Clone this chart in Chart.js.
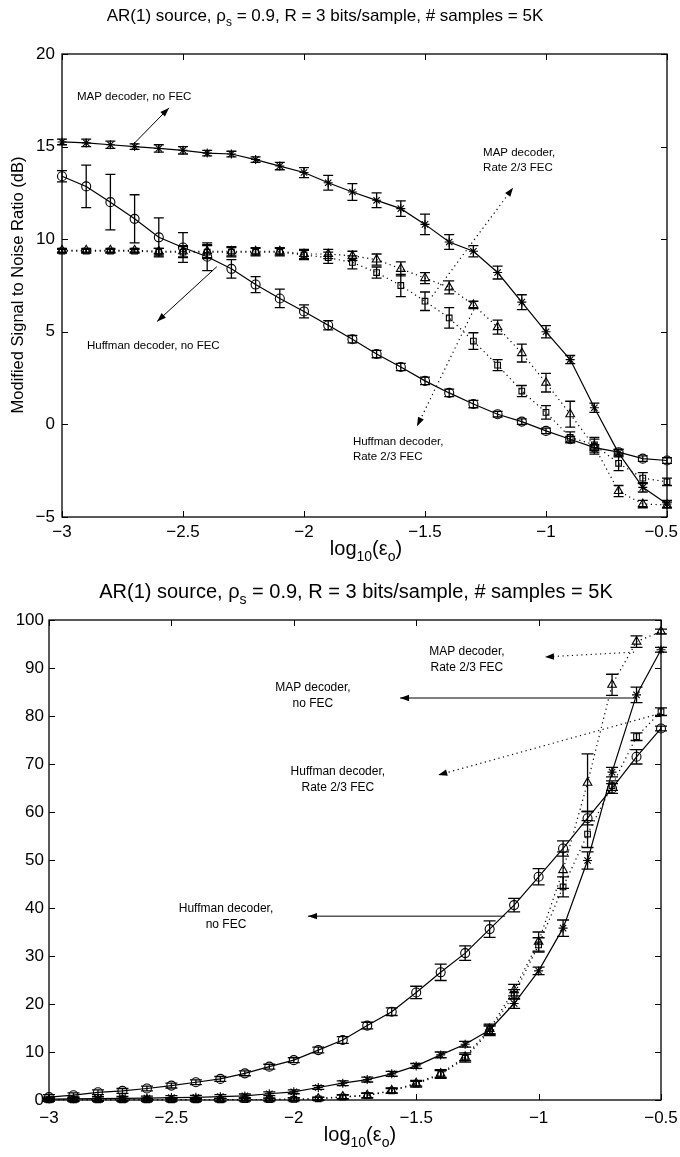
<!DOCTYPE html>
<html>
<head>
<meta charset="utf-8">
<script src="https://cdn.jsdelivr.net/npm/chart.js@4.4.1/dist/chart.umd.min.js"></script>
<style>
html, body { margin: 0; padding: 0; background: #fff; }
#wrap { position: relative; width: 680px; height: 1157px; }
canvas { position: absolute; left: 0; }
</style>
</head>
<body>
<div id="wrap">
  <canvas id="snrCanvas" width="680" height="578" style="top:0"></canvas>
  <canvas id="errCanvas" width="680" height="579" style="top:578px"></canvas>
</div>
<script>
// x grid: log10(eps_o)
const xs = [-3.0, -2.9, -2.8, -2.7, -2.6, -2.5, -2.4, -2.3, -2.2, -2.1, -2.0, -1.9, -1.8,
            -1.7, -1.6, -1.5, -1.4, -1.3, -1.2, -1.1, -1.0, -0.9, -0.8, -0.7, -0.6, -0.5];

// top panel: modified SNR (dB)
const snrMapNoFec = [15.25, 15.2, 15.1, 15.0, 14.9, 14.8, 14.65, 14.6, 14.3, 13.95, 13.6, 13.05, 12.55,
                     12.1, 11.65, 10.8, 9.85, 9.35, 8.2, 6.6, 5.0, 3.5, 0.9, -1.55, -3.4, -4.3];
const snrMapNoFecErr = [0.15, 0.2, 0.2, 0.15, 0.2, 0.2, 0.15, 0.15, 0.15, 0.2, 0.27, 0.4, 0.45,
                        0.4, 0.42, 0.55, 0.4, 0.3, 0.35, 0.4, 0.33, 0.22, 0.25, 0.2, 0.25, 0.2];
const snrHuffNoFec = [13.4, 12.85, 12.0, 11.1, 10.1, 9.55, 9.05, 8.4, 7.55, 6.8, 6.1, 5.35, 4.6,
                      3.8, 3.1, 2.35, 1.7, 1.1, 0.55, 0.15, -0.35, -0.8, -1.25, -1.5, -1.85, -1.95];
const snrHuffNoFecErr = [0.3, 1.15, 1.5, 1.3, 1.05, 0.8, 0.75, 0.5, 0.43, 0.5, 0.35, 0.25, 0.2,
                         0.2, 0.2, 0.2, 0.2, 0.2, 0.15, 0.15, 0.15, 0.15, 0.15, 0.15, 0.15, 0.15];
const snrMapFec = [9.4, 9.4, 9.4, 9.4, 9.35, 9.35, 9.35, 9.35, 9.35, 9.35, 9.2, 9.2, 9.1,
                   8.9, 8.4, 7.9, 7.4, 6.45, 5.25, 3.85, 2.25, 0.55, -1.2, -3.6, -4.3, -4.35];
const snrMapFecErr = [0.1, 0.1, 0.1, 0.1, 0.15, 0.3, 0.35, 0.25, 0.2, 0.2, 0.25, 0.25, 0.25,
                      0.3, 0.38, 0.3, 0.35, 0.2, 0.38, 0.48, 0.5, 0.7, 0.4, 0.3, 0.2, 0.15];
const snrHuffFec = [9.35, 9.35, 9.35, 9.35, 9.3, 9.3, 9.3, 9.3, 9.3, 9.3, 9.15, 9.0, 8.75,
                    8.2, 7.5, 6.65, 5.75, 4.5, 3.2, 1.8, 0.65, -0.7, -1.1, -2.1, -2.9, -3.1];
const snrHuffFecErr = [0.1, 0.1, 0.1, 0.1, 0.2, 0.3, 0.35, 0.25, 0.2, 0.2, 0.25, 0.3, 0.35,
                       0.3, 0.6, 0.5, 0.55, 0.45, 0.3, 0.3, 0.36, 0.3, 0.4, 0.4, 0.3, 0.2];

// bottom panel
const errHuffNoFec = [0.6, 1.0, 1.6, 1.9, 2.4, 3.0, 3.7, 4.4, 5.55, 6.95, 8.3, 10.4, 12.5,
                      15.5, 18.4, 22.4, 26.6, 30.6, 35.6, 40.6, 46.5, 52.4, 58.7, 64.9, 71.5, 77.4];
const errHuffNoFecErr = [0.5, 0.5, 0.5, 0.5, 0.5, 0.5, 0.5, 0.5, 0.5, 0.5, 0.5, 0.6, 0.7,
                         0.7, 0.8, 1.3, 1.7, 1.5, 1.7, 1.4, 1.7, 1.6, 1.4, 1.0, 1.5, 0.5];
const errMapNoFec = [0.2, 0.25, 0.3, 0.35, 0.4, 0.5, 0.55, 0.7, 0.85, 1.3, 1.7, 2.6, 3.5,
                     4.25, 5.45, 7.1, 9.4, 11.6, 14.6, 20.1, 26.9, 35.8, 49.9, 68.3, 84.4, 93.8];
const errMapNoFecErr = [0.4, 0.4, 0.4, 0.4, 0.4, 0.4, 0.4, 0.4, 0.4, 0.4, 0.4, 0.4, 0.5,
                        0.5, 0.5, 0.5, 0.6, 0.6, 1.0, 1.0, 0.8, 1.7, 1.8, 1.0, 1.6, 0.5];
const errMapFec = [0.05, 0.05, 0.05, 0.05, 0.05, 0.05, 0.05, 0.05, 0.1, 0.1, 0.15, 0.3, 0.7,
                   1.0, 2.0, 3.5, 5.5, 9.0, 14.8, 22.9, 33.0, 47.9, 66.1, 86.5, 95.5, 97.6];
const errMapFecErr = [0.3, 0.3, 0.3, 0.3, 0.3, 0.3, 0.3, 0.3, 0.3, 0.3, 0.3, 0.3, 0.4,
                      0.5, 0.5, 0.6, 0.8, 0.8, 1.0, 1.2, 2.0, 3.8, 6.0, 2.2, 1.2, 0.5];
const errHuffFec = [0.05, 0.05, 0.05, 0.05, 0.05, 0.05, 0.05, 0.05, 0.1, 0.1, 0.15, 0.25, 0.6,
                    0.9, 1.9, 3.3, 5.3, 8.7, 14.4, 22.0, 32.3, 44.4, 55.4, 65.5, 75.7, 80.9];
const errHuffFecErr = [0.3, 0.3, 0.3, 0.3, 0.3, 0.3, 0.3, 0.3, 0.3, 0.3, 0.3, 0.3, 0.4,
                       0.5, 0.5, 0.6, 0.8, 0.8, 1.0, 1.0, 1.5, 2.1, 2.8, 1.0, 0.8, 0.8];

// ticks
const xTicks = [-3, -2.5, -2, -1.5, -1, -0.5];
const snrTicks = [-5, 0, 5, 10, 15, 20];
const errTicks = [0, 10, 20, 30, 40, 50, 60, 70, 80, 90, 100];

// annotations: [lines, textX, textY, align, arrowFromX, arrowFromY, arrowToX, arrowToY, dotted]
const snrNotes = [
    [['MAP decoder, no FEC'], -2.938, 17.68, 'left', -2.707, 15.1, -2.558, 17.09, false],
    [['MAP decoder,', 'Rate 2/3 FEC'], -1.26, 14.67, 'left', -1.471, 6.91, -1.136, 12.78, true],
    [['Huffman decoder, no FEC'], -2.897, 4.23, 'left', -2.36, 8.52, -2.607, 5.56, false],
    [['Huffman decoder,', 'Rate 2/3 FEC'], -1.798, -0.96, 'left', -1.298, 6.21, -1.533, -0.1, true]
];
const errNotes = [
    [['MAP decoder,', 'Rate 2/3 FEC'], -1.293, 93.5, 'center', -0.61, 93.3, -0.974, 92.3, true],
    [['MAP decoder,', 'no FEC'], -1.922, 86.0, 'center', -0.598, 83.75, -1.566, 83.75, false],
    [['Huffman decoder,', 'Rate 2/3 FEC'], -1.82, 68.5, 'center', -0.512, 80.4, -1.41, 67.7, true],
    [['Huffman decoder,', 'no FEC'], -2.277, 39.8, 'center', -1.137, 38.3, -1.942, 38.3, false]
];

const FONT = '"Liberation Sans", Arial, Helvetica, sans-serif';
const titleParts = [['AR(1) source, \u03c1', 0], ['s', 1], [' = 0.9, R = 3 bits/sample, # samples = 5K', 0]];
const xLabelParts = [['log', 0], ['10', 1], ['(\u03b5', 0], ['o', 1], [')', 0]];

function fmt(v) {
    return String(v).replace('-', '\u2212');
}

function richText(ctx, parts, x, y, size, align) {
    const sub = size * 0.7;
    let w = 0;
    parts.forEach(p => {
        ctx.font = (p[1] ? sub : size) + 'px ' + FONT;
        w += ctx.measureText(p[0]).width;
    });
    let cx = align === 'center' ? x - w / 2 : x;
    ctx.textAlign = 'left';
    ctx.textBaseline = 'alphabetic';
    parts.forEach(p => {
        ctx.font = (p[1] ? sub : size) + 'px ' + FONT;
        ctx.fillText(p[0], cx, p[1] ? y + size * 0.32 : y);
        cx += ctx.measureText(p[0]).width;
    });
}

function arrow(ctx, x1, y1, x2, y2, dotted) {
    ctx.save();
    ctx.lineWidth = dotted ? 1.2 : 1;
    ctx.setLineDash(dotted ? [1.2, 3.5] : []);
    ctx.beginPath();
    ctx.moveTo(x1, y1);
    ctx.lineTo(x2, y2);
    ctx.stroke();
    ctx.setLineDash([]);
    const a = Math.atan2(y2 - y1, x2 - x1), L = 9, W = 3.2;
    ctx.beginPath();
    ctx.moveTo(x2, y2);
    ctx.lineTo(x2 - L * Math.cos(a) + W * Math.sin(a), y2 - L * Math.sin(a) - W * Math.cos(a));
    ctx.lineTo(x2 - L * Math.cos(a) - W * Math.sin(a), y2 - L * Math.sin(a) + W * Math.cos(a));
    ctx.closePath();
    ctx.fill();
    ctx.restore();
}

const decor = {
    id: 'decor',
    afterDatasetsDraw(chart, args, opts) {
        const ctx = chart.ctx, xS = chart.scales.x, yS = chart.scales.y;
        ctx.save();
        ctx.strokeStyle = '#000';
        ctx.lineWidth = 1.3;
        chart.data.datasets.forEach(ds => {
            ds.errors.forEach((e, i) => {
                const px = xS.getPixelForValue(xs[i]);
                const v = ds.data[i].y;
                const t = yS.getPixelForValue(v + e), b = yS.getPixelForValue(v - e);
                ctx.beginPath();
                ctx.moveTo(px, t); ctx.lineTo(px, b);
                ctx.moveTo(px - opts.cap, t); ctx.lineTo(px + opts.cap, t);
                ctx.moveTo(px - opts.cap, b); ctx.lineTo(px + opts.cap, b);
                ctx.stroke();
            });
        });
        ctx.restore();
    },
    afterDraw(chart, args, opts) {
        const ctx = chart.ctx, a = chart.chartArea, xS = chart.scales.x, yS = chart.scales.y;
        ctx.save();
        ctx.strokeStyle = '#000';
        ctx.fillStyle = '#000';
        ctx.lineWidth = 1.3;
        ctx.strokeRect(a.left, a.top, a.right - a.left, a.bottom - a.top);
        ctx.lineWidth = 1;
        ctx.beginPath();
        xTicks.forEach(v => {
            const px = Math.round(xS.getPixelForValue(v)) + 0.5;
            ctx.moveTo(px, a.bottom); ctx.lineTo(px, a.bottom - 6);
            ctx.moveTo(px, a.top); ctx.lineTo(px, a.top + 6);
        });
        opts.yTicks.forEach(v => {
            const py = Math.round(yS.getPixelForValue(v)) + 0.5;
            ctx.moveTo(a.left, py); ctx.lineTo(a.left + 6, py);
            ctx.moveTo(a.right, py); ctx.lineTo(a.right - 6, py);
        });
        ctx.stroke();

        // x tick labels, last one kept inside the page
        ctx.font = '17px ' + FONT;
        ctx.textAlign = 'left';
        ctx.textBaseline = 'middle';
        xTicks.forEach(v => {
            const s = fmt(v), w = ctx.measureText(s).width;
            let left = xS.getPixelForValue(v) - w / 2;
            left = Math.min(left, chart.width - 2 - w);
            ctx.fillText(s, left, opts.xTickY);
        });

        richText(ctx, titleParts, opts.titleX, opts.titleY, opts.titleSize, 'center');
        richText(ctx, xLabelParts, opts.xLabelX, opts.xLabelY, opts.xLabelSize, 'center');
        if (opts.yLabel) {
            ctx.save();
            ctx.translate(opts.yLabelX, opts.yLabelY);
            ctx.rotate(-Math.PI / 2);
            ctx.font = opts.yLabelSize + 'px ' + FONT;
            ctx.textAlign = 'center';
            ctx.textBaseline = 'middle';
            ctx.fillText(opts.yLabel, 0, 0);
            ctx.restore();
        }

        ctx.font = opts.noteSize + 'px ' + FONT;
        ctx.textBaseline = 'middle';
        opts.notes.forEach(n => {
            const tx = xS.getPixelForValue(n[1]);
            const ty = yS.getPixelForValue(n[2]);
            ctx.textAlign = n[3];
            n[0].forEach((line, k) => ctx.fillText(line, tx, ty + k * opts.noteLead));
            arrow(ctx, xS.getPixelForValue(n[4]), yS.getPixelForValue(n[5]),
                  xS.getPixelForValue(n[6]), yS.getPixelForValue(n[7]), n[8]);
        });
        ctx.restore();
    }
};

function series(vals, errs, style, dotted, radius) {
    return {
        data: vals.map((v, i) => ({ x: xs[i], y: v })),
        errors: errs,
        borderColor: '#000',
        borderWidth: 1.2,
        borderDash: dotted ? [1.2, 3.5] : [],
        pointStyle: style,
        pointRadius: radius,
        pointBorderColor: '#000',
        pointBackgroundColor: 'rgba(0,0,0,0)',
        pointBorderWidth: 1.1,
        tension: 0,
        clip: false
    };
}

function makeChart(canvas, datasets, yMin, yMax, yTicks, box, deco) {
    return new Chart(canvas.getContext('2d'), {
        type: 'line',
        data: { datasets: datasets },
        options: {
            responsive: false,
            animation: false,
            events: [],
            layout: { padding: { top: box.top, right: box.right, left: 0, bottom: 0 } },
            plugins: { legend: { display: false }, tooltip: { enabled: false }, decor: deco },
            scales: {
                x: {
                    type: 'linear', min: -3, max: -0.5,
                    grid: { display: false, drawTicks: false },
                    border: { display: false },
                    afterBuildTicks: s => { s.ticks = xTicks.map(v => ({ value: v })); },
                    afterFit: s => { s.height = box.xh; s.paddingLeft = 0; s.paddingRight = 0; },
                    ticks: { display: false }
                },
                y: {
                    type: 'linear', min: yMin, max: yMax,
                    grid: { display: false, drawTicks: false },
                    border: { display: false },
                    afterBuildTicks: s => { s.ticks = yTicks.map(v => ({ value: v })); },
                    afterFit: s => { s.width = box.left; s.paddingTop = 0; s.paddingBottom = 0; },
                    ticks: {
                        autoSkip: false, padding: box.ypad, color: '#000',
                        font: { family: FONT, size: 17 }, callback: v => fmt(v)
                    }
                }
            }
        },
        plugins: [decor]
    });
}

makeChart(document.getElementById('snrCanvas'), [
    series(snrMapNoFec, snrMapNoFecErr, 'star', false, 4.5),
    series(snrHuffNoFec, snrHuffNoFecErr, 'circle', false, 4.5),
    series(snrMapFec, snrMapFecErr, 'triangle', true, 5),
    series(snrHuffFec, snrHuffFecErr, 'rect', true, 4)
], -5, 20, snrTicks,
{ top: 54, right: 13, left: 62, xh: 61, ypad: 7 },
{
    cap: 5, yTicks: snrTicks, xTickY: 532,
    titleX: 325, titleY: 21, titleSize: 17,
    xLabelX: 366, xLabelY: 555, xLabelSize: 20,
    yLabel: 'Modified Signal to Noise Ratio (dB)', yLabelX: 18, yLabelY: 285, yLabelSize: 16.5,
    notes: snrNotes, noteSize: 11.5, noteLead: 15
});

makeChart(document.getElementById('errCanvas'), [
    series(errMapNoFec, errMapNoFecErr, 'star', false, 4.5),
    series(errHuffNoFec, errHuffNoFecErr, 'circle', false, 4.5),
    series(errMapFec, errMapFecErr, 'triangle', true, 5),
    series(errHuffFec, errHuffFecErr, 'rect', true, 4)
], 0, 100, errTicks,
{ top: 42, right: 19, left: 49, xh: 57, ypad: 5 },
{
    cap: 6, yTicks: errTicks, xTickY: 540,
    titleX: 356, titleY: 20, titleSize: 20,
    xLabelX: 360, xLabelY: 563, xLabelSize: 20,
    yLabel: null,
    notes: errNotes, noteSize: 12, noteLead: 16
});
</script>
</body>
</html>
